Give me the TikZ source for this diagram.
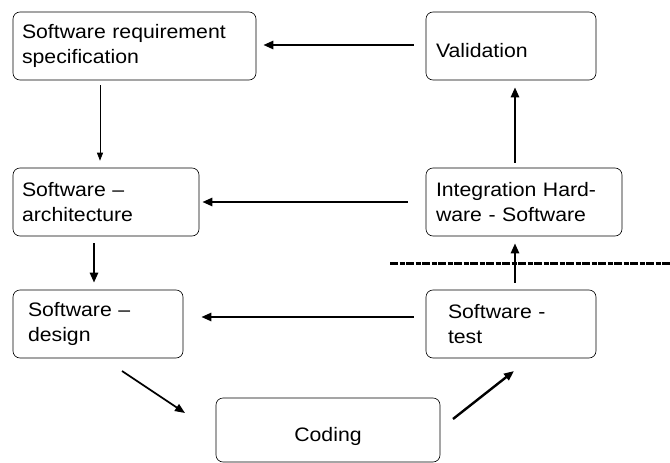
\documentclass[tikz,border=0pt]{standalone}
\usepackage{fontspec}
\setmainfont{Liberation Sans}[FakeStretch=1.09]
\usetikzlibrary{arrows.meta}
\begin{document}
\begin{tikzpicture}[x=1pt,y=-1pt,
  box/.style={draw, line width=0.6pt, rounded corners=7pt, font=\fontsize{19.5}{24.5}\selectfont,
    align=left, inner xsep=9pt, inner ysep=0pt, anchor=center},
  thickarr/.style={line width=2.4pt, -{Triangle[length=10pt,width=8pt]}},
  midarr/.style={line width=1.7pt, -{Triangle[length=10pt,width=8pt]}},
  thinarr/.style={line width=0.8pt, -{Triangle[length=8pt,width=6pt]}}]
\useasboundingbox (0,0) rectangle (670,463);
\node[box, text width=225pt, minimum height=68pt] (srs) at (134.5,46) {Software requirement\\specification};
\node[box, inner xsep=10pt, text width=150pt, minimum height=68pt, text height=24pt] (val) at (511,46) {Validation};
\node[box, text width=168pt, minimum height=68pt] (arch) at (106,202) {Software –\\architecture};
\node[box, inner xsep=10pt, text width=176pt, minimum height=68pt] (integ) at (524,202) {Integration Hard-\\ware - Software};
\node[box, inner xsep=15pt, text width=140pt, minimum height=68pt] (des) at (98,324) {Software –\\design};
\node[box, inner xsep=22pt, text width=126pt, minimum height=68pt] (test) at (511,324) {Software -\\test};
\node[box, text width=206pt, minimum height=64pt, align=center, text height=27pt] (cod) at (328,430) {Coding};
% dashed boundary
\draw[line width=3pt, dash pattern=on 8pt off 1.5pt on 5pt off 1.5pt] (390,263) -- (670,263);
% arrows
\draw[thickarr, shorten <=12pt, shorten >=7pt] ([yshift=1pt]val.west) -- ([yshift=1pt]srs.east);
\draw[thinarr, shorten <=5pt, shorten >=7pt] ([xshift=-6pt]arch.north |- srs.south) -- ([xshift=-6pt]arch.north);
\draw[thickarr, shorten <=5pt, shorten >=7pt] ([xshift=-9pt]integ.north) -- ([xshift=-9pt]integ.north |- val.south);
\draw[thickarr, shorten <=18pt, shorten >=3pt] (integ.west) -- (arch.east);
\draw[thickarr, shorten <=7pt, shorten >=7pt] ([xshift=-12pt]arch.south) -- ([xshift=-12pt]arch.south |- des.north);
\draw[thickarr, shorten <=12pt, shorten >=18pt] ([yshift=7pt]test.west) -- ([yshift=7pt]test.west -| des.east);
\draw[thickarr, shorten <=7pt, shorten >=7pt] ([xshift=4pt]test.north) -- ([xshift=4pt]test.north |- integ.south);
\coordinate (dc1) at (122,371);
\coordinate (dc2) at (185,413);
\coordinate (ct1) at (453,419);
\coordinate (ct2) at (514,371);
\draw[midarr] (dc1) -- (dc2);
\draw[thickarr] (ct1) -- (ct2);
\end{tikzpicture}
\end{document}
